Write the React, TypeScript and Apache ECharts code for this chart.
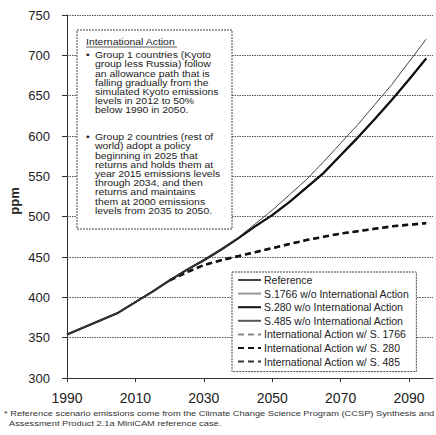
import React, { useEffect, useRef } from "react";
import * as echarts from "echarts";

const years = [1990, 1995, 2000, 2005, 2010, 2015, 2020, 2025, 2030, 2035, 2040, 2045, 2050, 2055, 2060, 2065, 2070, 2075, 2080, 2085, 2090, 2095];

const reference = [354, 363, 372, 381, 394, 407, 421, 434, 446, 459, 474, 491, 508, 527, 546, 568, 591, 614, 639, 664, 692, 720];
const s1766NoIntl = [354, 363, 372, 381, 394, 407, 421, 434, 446, 459, 473, 488, 502, 519, 537, 555, 577, 599, 622, 646, 671, 697];
const s280NoIntl = [354, 363, 372, 381, 394, 407, 421, 434, 446, 459, 473, 488, 502, 518, 536, 554, 576, 598, 621, 645, 670, 696];
const s485NoIntl = [354, 363, 372, 381, 394, 407, 421, 434, 446, 459, 473, 488, 502, 518, 536, 554, 576, 598, 621, 645, 670, 696];
const intlS1766 = [null, null, null, null, null, null, 421, 431, 440, 446, 451, 456, 461, 466, 471, 475, 479, 482, 485, 488, 490, 493];
const intlS280 = [null, null, null, null, null, null, 421, 431, 440, 446, 451, 456, 461, 466, 471, 475, 479, 482, 485, 488, 490, 492];
const intlS485 = [null, null, null, null, null, null, 421, 431, 440, 446, 451, 456, 461, 466, 471, 475, 479, 482, 485, 488, 490, 492];

const yTicks = { min: 300, max: 750, interval: 50 };
const xTicks = { min: 1990, max: 2097, interval: 20 };

const boxTitle = "International Action";
const group1Text = [
  "Group 1 countries (Kyoto",
  "group less Russia) follow",
  "an allowance path that is",
  "falling gradually from the",
  "simulated Kyoto emissions",
  "levels in 2012 to 50%",
  "below 1990 in 2050.",
];
const group2Text = [
  "Group 2 countries (rest of",
  "world) adopt a policy",
  "beginning in 2025 that",
  "returns and holds them at",
  "year 2015 emissions levels",
  "through 2034, and then",
  "returns and maintains",
  "them at 2000 emissions",
  "levels from 2035 to 2050.",
];
const footnote1 = "* Reference scenario emissions come from the Climate Change Science Program (CCSP) Synthesis and";
const footnote2 = "Assessment Product 2.1a MiniCAM reference case.";

const FONT = "'Liberation Sans', Arial, sans-serif";

function pairs(vals: (number | null)[]) {
  return years.map((y, i) => [y, vals[i]]);
}

export default function App() {
  const ref = useRef<HTMLDivElement>(null);
  useEffect(() => {
    if (!ref.current) return;
    const chart = echarts.init(ref.current, undefined, { renderer: "svg" });
    const dash = [6, 4];
    const mk = (name: string, vals: (number | null)[], color: string, width: number, type: any, z: number) => ({
      name,
      type: "line",
      data: pairs(vals),
      symbol: "none",
      showSymbol: false,
      z,
      lineStyle: { color, width, type },
      itemStyle: { color },
      emphasis: { disabled: true },
    });
    const lh = 9.2;
    const fs = 9;
    const sx = 1.16;
    const boxText = (text: string, x: number, y: number) => ({
      type: "text",
      x,
      y,
      z: 101,
      scaleX: sx,
      style: { text, fontSize: fs, lineHeight: lh, fill: "#222", fontFamily: FONT, verticalAlign: "top" },
    });
    chart.setOption({
      animation: false,
      grid: { left: 67, right: 3, top: 15, bottom: 57 },
      xAxis: {
        type: "value",
        min: xTicks.min,
        max: xTicks.max,
        interval: xTicks.interval,
        axisLine: { show: true, lineStyle: { color: "#333", width: 1 } },
        axisTick: { show: true, length: 4, lineStyle: { color: "#333" } },
        axisLabel: {
          margin: 13,
          fontSize: 14,
          color: "#222",
          fontFamily: FONT,
          showMaxLabel: false,
          formatter: (v: number) => ((v - 1990) % 20 === 0 ? String(v) : ""),
        },
        splitLine: { show: false },
      },
      yAxis: {
        type: "value",
        min: yTicks.min,
        max: yTicks.max,
        interval: yTicks.interval,
        axisLine: { show: true, lineStyle: { color: "#333", width: 1 } },
        axisTick: { show: true, length: 5, lineStyle: { color: "#333" } },
        axisLabel: { margin: 17, fontSize: 13, color: "#222", fontFamily: FONT },
        splitLine: { show: true, lineStyle: { color: "#555", width: 1, type: [1.5, 1] } },
      },
      legend: {
        orient: "vertical",
        left: 232,
        top: 272,
        padding: [2, 7, 4, 5],
        itemWidth: 23,
        itemHeight: 10,
        itemGap: 1.6,
        backgroundColor: "#fff",
        borderColor: "#444",
        borderWidth: 1,
        borderType: [2, 1],
        itemStyle: { color: "rgba(0,0,0,0)", borderWidth: 0, opacity: 0 },
        textStyle: { fontSize: 10.5, color: "#222", fontFamily: FONT, lineHeight: 12, padding: [0, 0, 0, -2] },
        data: [
          "Reference",
          "S.1766 w/o International Action",
          "S.280 w/o International Action",
          "S.485 w/o International Action",
          "International Action w/ S. 1766",
          "International Action w/ S. 280",
          "International Action w/ S. 485",
        ],
      },
      series: [
        mk("S.1766 w/o International Action", s1766NoIntl, "#999", 1, "solid", 2),
        mk("S.485 w/o International Action", s485NoIntl, "#555", 1.6, "solid", 3),
        mk("S.280 w/o International Action", s280NoIntl, "#111", 2.2, "solid", 4),
        mk("Reference", reference, "#444", 1, "solid", 5),
        mk("International Action w/ S. 1766", intlS1766, "#888", 1, dash, 2),
        mk("International Action w/ S. 485", intlS485, "#333", 2, dash, 3),
        mk("International Action w/ S. 280", intlS280, "#111", 2.6, dash, 4),
      ],
      graphic: [
        {
          type: "rect",
          z: 100,
          shape: { x: 77, y: 30, width: 155, height: 199 },
          style: { fill: "#fff", stroke: "#444", lineWidth: 1, lineDash: [2, 1] },
        },
        boxText(boxTitle, 86, 42 - lh / 2),
        {
          type: "line",
          z: 101,
          shape: { x1: 86, y1: 47, x2: 177, y2: 47 },
          style: { stroke: "#333", lineWidth: 0.8 },
        },
        boxText("\u2022", 86, 55 - lh / 2),
        boxText(group1Text.join("\n"), 95, 55 - lh / 2),
        boxText("\u2022", 86, 137 - lh / 2),
        boxText(group2Text.join("\n"), 95, 137 - lh / 2),
        {
          type: "text",
          x: 14,
          y: 201,
          z: 101,
          rotation: Math.PI / 2,
          style: { text: "ppm", fontSize: 13, fontWeight: "bold", fill: "#222", fontFamily: FONT, align: "center", verticalAlign: "middle" },
        },
        {
          type: "text",
          x: 4,
          y: 413,
          z: 101,
          scaleX: 1.19,
          style: { text: footnote1, fontSize: 7.8, fill: "#333", fontFamily: FONT, verticalAlign: "middle" },
        },
        {
          type: "text",
          x: 9,
          y: 423,
          z: 101,
          scaleX: 1.19,
          style: { text: footnote2, fontSize: 7.8, fill: "#333", fontFamily: FONT, verticalAlign: "middle" },
        },
      ],
    });
    return () => chart.dispose();
  }, []);
  return <div ref={ref} style={{ position: "fixed", left: 0, top: 0, width: 436, height: 435, background: "#fff" }} />;
}
